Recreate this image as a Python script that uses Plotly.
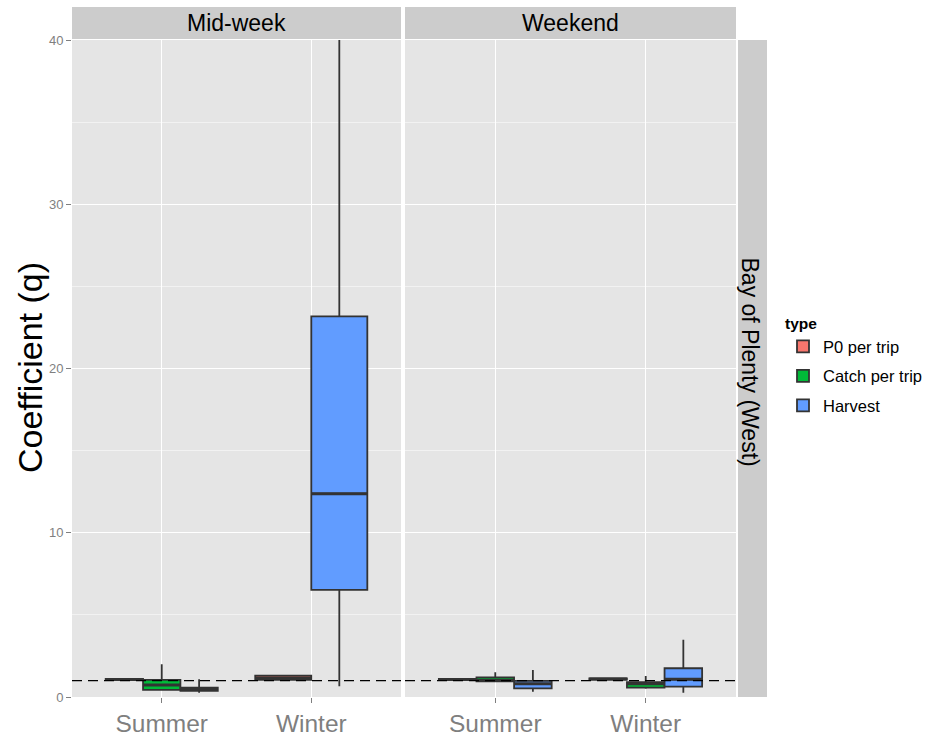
import plotly.graph_objects as go

# ---------------- data ----------------
facets = ["Mid-week", "Weekend"]
seasons = ["Summer", "Winter"]
types = ["P0 per trip", "Catch per trip", "Harvest"]
type_colors = ["#F8766D", "#00BA38", "#619CFF"]
row_label = "Bay of Plenty (West)"
y_title = "Coefficient (q)"
legend_title = "type"
ref_value = 1.0
y_ticks = [0, 10, 20, 30, 40]

# one entry per box (box-plot statistics)
box_facet = ["Mid-week", "Mid-week", "Mid-week", "Mid-week", "Mid-week",
             "Weekend", "Weekend", "Weekend", "Weekend", "Weekend", "Weekend"]
box_season = ["Summer", "Summer", "Summer", "Winter", "Winter",
              "Summer", "Summer", "Summer", "Winter", "Winter", "Winter"]
box_type = ["P0 per trip", "Catch per trip", "Harvest", "P0 per trip", "Harvest",
            "P0 per trip", "Catch per trip", "Harvest", "P0 per trip", "Catch per trip", "Harvest"]
box_lower = [1.02, 0.40, 0.26, 1.02, 0.65, 1.00, 0.90, 0.32, 1.03, 0.50, 0.26]
box_q1 = [1.04, 0.43, 0.37, 1.05, 6.52, 1.03, 0.95, 0.53, 1.06, 0.57, 0.63]
box_median = [1.07, 0.73, 0.45, 1.15, 12.38, 1.06, 1.02, 0.80, 1.10, 0.80, 1.08]
box_q3 = [1.10, 1.04, 0.57, 1.30, 23.17, 1.10, 1.20, 0.98, 1.14, 0.91, 1.75]
box_upper = [1.13, 2.00, 1.08, 1.35, 48.0, 1.13, 1.50, 1.65, 1.17, 1.28, 3.48]

# ---------------- layout geometry ----------------
W, H = 929, 738
ml, mr, mt, mb = 72, 162, 7, 41
pw, ph = W - ml - mr, H - mt - mb


def px_x(p):
    return (p - ml) / pw


def px_y(p):
    return (H - mb - p) / ph


panel_top = px_y(40)
dom1 = [0, px_x(401)]
dom2 = [px_x(405), px_x(736)]
axis_names = {"Mid-week": ("x", "y"), "Weekend": ("x2", "y2")}

font_family = "Liberation Sans, Arial, sans-serif"
box_line = "#333333"

fig = go.Figure()

# dodge positions (ggplot-like: total width 0.75 shared by the groups present)
dodge_total = 0.75
shown = set()
med_lines = {f: ([], []) for f in facets}
for i in range(len(box_facet)):
    f, s, t = box_facet[i], box_season[i], box_type[i]
    present = [tt for tt in types
               if any(box_facet[j] == f and box_season[j] == s and box_type[j] == tt
                      for j in range(len(box_facet)))]
    n = len(present)
    w = dodge_total / n
    k = present.index(t)
    center = seasons.index(s) + 1
    pos = center - dodge_total / 2 + w * (k + 0.5)
    ti = types.index(t)
    xa, ya = axis_names[f]
    fig.add_trace(go.Box(
        x=[pos], q1=[box_q1[i]], median=[box_median[i]], q3=[box_q3[i]],
        lowerfence=[box_lower[i]], upperfence=[box_upper[i]],
        width=w * 0.999, boxpoints=False, whiskerwidth=0,
        fillcolor=type_colors[ti], line=dict(color=box_line, width=1.8),
        name=t, legendgroup=t, showlegend=t not in shown, legendrank=ti + 1,
        xaxis=xa, yaxis=ya, hoverinfo="skip",
    ))
    shown.add(t)
    mx, my = med_lines[f]
    mx += [pos - w / 2, pos + w / 2, None]
    my += [box_median[i], box_median[i], None]

for f in facets:
    xa, ya = axis_names[f]
    mx, my = med_lines[f]
    fig.add_trace(go.Scatter(x=mx, y=my, mode="lines",
                             line=dict(color=box_line, width=3),
                             showlegend=False, hoverinfo="skip",
                             xaxis=xa, yaxis=ya))

xaxis_common = dict(
    range=[0.4, 2.6], tickvals=[1, 2], ticktext=seasons,
    showgrid=True, gridcolor="white", gridwidth=1.3, zeroline=False,
    showline=False, ticks="outside", ticklen=5, tickcolor="#7F7F7F",
    tickfont=dict(size=24.5, color="#7F7F7F", family=font_family),
    anchor="y", fixedrange=True,
)
yaxis_common = dict(
    range=[0, 40], tickvals=y_ticks, showgrid=True, gridcolor="white",
    gridwidth=1.3, zeroline=False, showline=False,
    minor=dict(tick0=0, dtick=5, showgrid=True, gridcolor="#F2F2F2",
               gridwidth=0.9, ticks=""),
    domain=[0, panel_top], fixedrange=True,
)

fig.update_layout(
    width=W, height=H,
    margin=dict(l=ml, r=mr, t=mt, b=mb, autoexpand=False),
    paper_bgcolor="white", plot_bgcolor="#E5E5E5",
    font=dict(family=font_family, color="black"),
    xaxis=dict(domain=dom1, **xaxis_common),
    xaxis2=dict(domain=dom2, **{**xaxis_common, "anchor": "y2"}),
    yaxis=dict(**yaxis_common, anchor="x", ticks="outside", ticklen=5,
               tickcolor="#7F7F7F",
               tickfont=dict(size=13, color="#7F7F7F", family=font_family)),
    yaxis2=dict(**yaxis_common, anchor="x2", matches="y",
                showticklabels=False, ticks=""),
    showlegend=True,
    legend=dict(
        x=px_x(783), y=px_y(309), xanchor="left", yanchor="top",
        title=dict(text="<b>" + legend_title + "</b>",
                   font=dict(size=15.5, family=font_family)),
        font=dict(size=16.5, family=font_family),
        bgcolor="rgba(0,0,0,0)", tracegroupgap=5, itemwidth=30,
    ),
)

shapes = []
annotations = []
# facet strips on top
for f, dom in zip(facets, [dom1, dom2]):
    shapes.append(dict(type="rect", xref="paper", yref="paper",
                       x0=dom[0], x1=dom[1], y0=px_y(39), y1=1,
                       fillcolor="#CCCCCC", line=dict(width=0), layer="below"))
    annotations.append(dict(text=f, xref="paper", yref="paper",
                            x=(dom[0] + dom[1]) / 2, y=px_y(23),
                            xanchor="center", yanchor="middle", showarrow=False,
                            font=dict(size=23, color="black", family=font_family)))
# right strip
shapes.append(dict(type="rect", xref="paper", yref="paper",
                   x0=px_x(738), x1=1, y0=0, y1=panel_top,
                   fillcolor="#CCCCCC", line=dict(width=0), layer="below"))
annotations.append(dict(text=row_label, xref="paper", yref="paper",
                        x=px_x(749.5), y=px_y(362), textangle=90,
                        xanchor="center", yanchor="middle", showarrow=False,
                        font=dict(size=23, color="black", family=font_family)))
# y-axis title
annotations.append(dict(text=y_title, xref="paper", yref="paper",
                        x=px_x(30), y=px_y(368), textangle=-90,
                        xanchor="center", yanchor="middle", showarrow=False,
                        font=dict(size=34, color="black", family=font_family)))
# dashed reference line in each panel
for f in facets:
    xa, ya = axis_names[f]
    shapes.append(dict(type="line", xref=xa, yref=ya, x0=0.4, x1=2.6,
                       y0=ref_value, y1=ref_value,
                       line=dict(color="black", width=1.4, dash="10px,6px"),
                       layer="above"))

fig.update_layout(shapes=shapes, annotations=annotations)

fig.write_html("out.html")
